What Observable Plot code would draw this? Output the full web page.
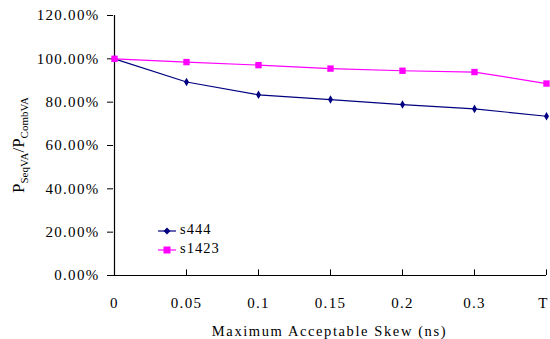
<!DOCTYPE html>
<html><head><meta charset="utf-8">
<script src="https://cdn.jsdelivr.net/npm/d3@7"></script>
<script src="https://cdn.jsdelivr.net/npm/@observablehq/plot@0.6"></script>
<style>body{margin:0;background:#fff;} svg{overflow:visible}</style>
</head><body><div id="chart"></div>
<script>
const categories = ["0", "0.05", "0.1", "0.15", "0.2", "0.3", "T"];
const s444 = [100, 89.3, 83.4, 81.2, 78.9, 76.9, 73.5];
const s1423 = [100, 98.5, 97.1, 95.5, 94.5, 93.9, 88.6];
const seriesNames = ["s444", "s1423"];
const seriesColors = ["#000080", "#FF00FF"];
const yTicks = [0, 20, 40, 60, 80, 100, 120];
const xLabel = "Maximum Acceptable Skew (ns)";

const rows = [
  ...categories.map((c, i) => ({cat: c, v: s444[i], s: "s444"})),
  ...categories.map((c, i) => ({cat: c, v: s1423[i], s: "s1423"}))
];
const font = "'Liberation Serif', 'DejaVu Serif', serif";

const W = 550, H = 339, ML = 113, MR = 4, MT = 15, MB = 64;
const chart = Plot.plot({
  width: W, height: H,
  marginLeft: ML, marginRight: MR, marginTop: MT, marginBottom: MB,
  x: {type: "point", domain: categories, padding: 0},
  y: {domain: [0, 120]},
  color: {domain: seriesNames, range: seriesColors},
  marks: [
    Plot.axisY({ticks: yTicks, tickFormat: d => d.toFixed(2) + "%", tickSize: 6, tickPadding: 8, label: null}),
    Plot.axisX({tickSize: 0, tickPadding: 22, label: null}),
    Plot.ruleX(categories, {x: d => d, y1: 0, y2: 2.6, stroke: "#000"}),
    Plot.ruleY([0], {stroke: "#000", strokeWidth: 1.2}),
    Plot.ruleX([categories[0]], {y1: 0, y2: 120, stroke: "#000", strokeWidth: 1.2}),
    Plot.line(rows, {x: "cat", y: "v", stroke: "s", strokeWidth: 1.2}),
    Plot.dot(rows.filter(d => d.s === "s444"), {x: "cat", y: "v", symbol: "diamond", r: 2.6, fill: "s", stroke: "none"}),
    Plot.dot(rows.filter(d => d.s === "s1423"), {x: "cat", y: "v", symbol: "square", r: 3.6, fill: "s", stroke: "none"})
  ]
});
document.getElementById("chart").appendChild(chart);

const svg = d3.select(chart);
svg.selectAll("text")
  .style("font-family", font).style("font-size", "15px").style("letter-spacing", "1.3px").style("fill", "#000");
svg.selectAll("g[aria-label='y-axis tick'] path, g[aria-label='y-axis tick'] line").style("stroke", "#000");
// keep last x tick label inside the picture
const xLabels = svg.selectAll("g[aria-label='x-axis tick label'] text").nodes();
if (xLabels.length) d3.select(xLabels[xLabels.length - 1]).attr("dx", -3);

// x label
svg.append("text")
  .attr("x", (ML + W - MR) / 2).attr("y", 333)
  .attr("text-anchor", "middle").attr("dominant-baseline", "middle")
  .style("font-family", font).style("font-size", "14.5px").style("letter-spacing", "1.6px").attr("fill", "#000")
  .text(xLabel);
// y label with subscripts
const yl = svg.append("text")
  .attr("transform", "translate(24,145) rotate(-90)")
  .attr("text-anchor", "middle")
  .style("font-family", font).style("font-size", "17px").attr("fill", "#000");
yl.append("tspan").text("P");
yl.append("tspan").style("font-size", "11px").attr("dy", 4).text("SeqVA");
yl.append("tspan").attr("dy", -4).text("/P");
yl.append("tspan").style("font-size", "11px").attr("dy", 4).text("CombVA");
// legend
const legY = [231, 250];
seriesNames.forEach((name, i) => {
  const g = svg.append("g");
  g.append("line").attr("x1", 158).attr("x2", 176).attr("y1", legY[i]).attr("y2", legY[i])
    .attr("stroke", seriesColors[i]).attr("stroke-width", 1.2);
  if (i === 0) {
    g.append("path").attr("d", d3.symbol(d3.symbolDiamond2, 30)()).attr("transform", `translate(167,${legY[i]})`).attr("fill", seriesColors[i]);
  } else {
    g.append("rect").attr("x", 163.5).attr("y", legY[i] - 3.5).attr("width", 7).attr("height", 7).attr("fill", seriesColors[i]);
  }
  g.append("text").attr("x", 180).attr("y", legY[i]).attr("dominant-baseline", "middle").attr("text-anchor", "start")
    .style("font-family", font).style("font-size", "14.5px").style("letter-spacing", "1px").attr("fill", "#000").text(name);
});
</script>
</body></html>
